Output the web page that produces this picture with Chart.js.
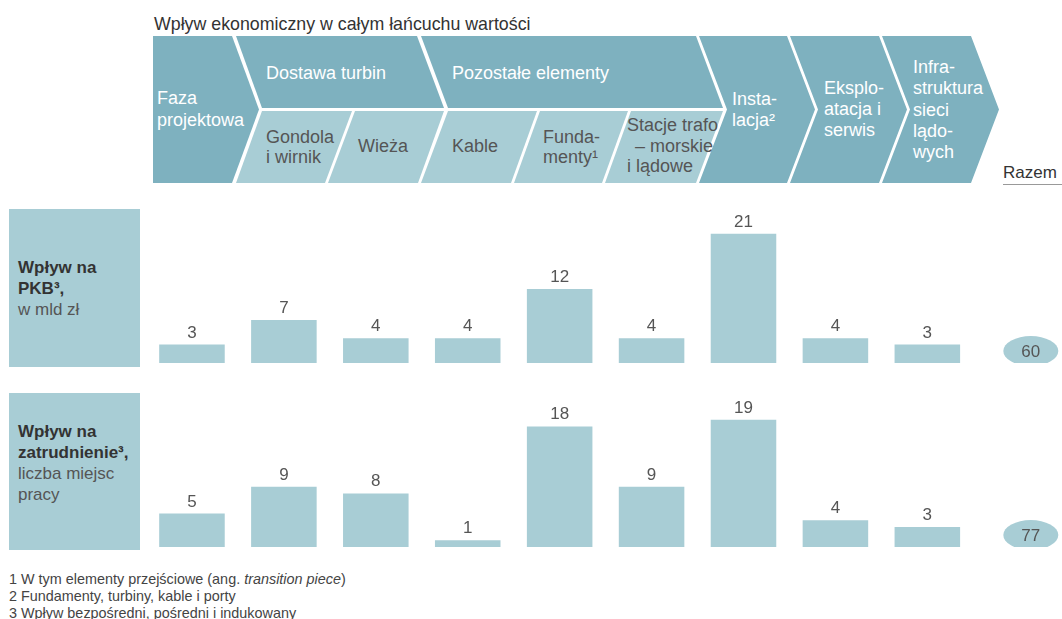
<!DOCTYPE html>
<html lang="pl">
<head>
<meta charset="utf-8">
<title>Wpływ ekonomiczny w całym łańcuchu wartości</title>
<script src="https://cdn.jsdelivr.net/npm/chart.js@4"></script>
<style>
  html, body { margin: 0; padding: 0; background: #fff; }
  body { width: 1062px; height: 619px; overflow: hidden; position: relative;
         font-family: "Liberation Sans", Arial, sans-serif; }
  .shape { position: absolute; }
  .txt { position: absolute; font-size: 18px; line-height: 21px; white-space: nowrap; }
  .w { color: #fff; }
  .g { color: #555; }
  #tytul { position: absolute; left: 154px; top: 13.8px; font-size: 17.8px; line-height: 20px; color: #333; }
  #razem { position: absolute; left: 1003px; top: 163px; font-size: 17px; line-height: 20px; color: #333;
           width: 59px; border-bottom: 1px solid #999; padding-bottom: 1px; }
  .box { position: absolute; left: 9px; width: 131px; background: #a8cdd5; }
  .box .lbl { position: absolute; left: 9px; font-size: 17px; line-height: 21px; white-space: nowrap; }
  .box b { color: #333; }
  .box span { color: #555; }
  .wrap { position: absolute; left: 146px; width: 916px; height: 154px; }
  #przypisy { position: absolute; left: 9px; top: 570.5px; font-size: 14.4px; line-height: 17px; color: #444; white-space: nowrap; }
</style>
</head>
<body>

<div id="tytul">Wpływ ekonomiczny w całym łańcuchu wartości</div>
<div id="naglowek"></div>

<div class="txt w" style="left:157px; top:88px; line-height:21.5px">Faza<br>projektowa</div>
<div class="txt w" style="left:266px; top:63px">Dostawa turbin</div>
<div class="txt w" style="left:452px; top:63px">Pozostałe elementy</div>
<div class="txt g" style="left:266px; top:126.5px; line-height:20.7px">Gondola<br>i wirnik</div>
<div class="txt g" style="left:358px; top:136px">Wieża</div>
<div class="txt g" style="left:452px; top:136px">Kable</div>
<div class="txt g" style="left:543px; top:126.5px; line-height:20.7px">Funda-<br>menty¹</div>
<div class="txt g" style="left:627px; top:115px; line-height:20.7px">Stacje trafo<br><span style="margin-left:8px">– morskie</span><br>i lądowe</div>
<div class="txt w" style="left:732px; top:89px; line-height:21.3px">Insta-<br>lacja²</div>
<div class="txt w" style="left:824px; top:78px; line-height:21.2px">Eksplo-<br>atacja i<br>serwis</div>
<div class="txt w" style="left:913px; top:57px; line-height:21.3px">Infra-<br>struktura<br>sieci<br>lądo-<br>wych</div>
<div id="razem">Razem</div>

<div class="box" style="top:209px; height:158px">
  <div class="lbl" style="top:48px"><b>Wpływ na<br>PKB³,</b><br><span>w mld zł</span></div>
</div>
<div class="box" style="top:393px; height:157px">
  <div class="lbl" style="top:27.5px"><b>Wpływ na<br>zatrudnienie³,</b><br><span>liczba miejsc<br>pracy</span></div>
</div>

<div class="wrap" style="top:209px"><canvas id="pkb"></canvas></div>
<div class="wrap" style="top:393px"><canvas id="zatrudnienie"></canvas></div>

<div id="przypisy">
  1 W tym elementy przejściowe (ang. <i>transition piece</i>)<br>
  2 Fundamenty, turbiny, kable i porty<br>
  3 Wpływ bezpośredni, pośredni i indukowany
</div>

<script>
// etapy łańcucha wartości (kolejność słupków)
const etapy = ['Faza projektowa', 'Gondola i wirnik', 'Wieża', 'Kable', 'Fundamenty',
               'Stacje trafo', 'Instalacja', 'Eksploatacja i serwis', 'Infrastruktura sieci lądowych'];
const pkb = [3, 7, 4, 4, 12, 4, 21, 4, 3];          // mld zł
const zatrudnienie = [5, 9, 8, 1, 18, 9, 19, 4, 3]; // liczba miejsc pracy
const razemPkb = 60;
const razemZatrudnienie = 77;

const CIEMNY = '#7eb1bf';
const JASNY = '#a8cdd5';

// strzałki nagłówka
const ksztalty = [
  [[153,36],[232,36],[259,109.5],[232,183],[153,183]],
  [[236,36],[417,36],[444,108],[262,108]],
  [[421,36],[696,36],[723,108],[448,108]],
  [[699,36],[787,36],[815,109.5],[787,183],[699,183],[727,109.5]],
  [[790,36],[879,36],[907,109.5],[879,183],[790,183],[818,109.5]],
  [[882,36],[971,36],[999,109.5],[971,183],[882,183],[910,109.5]]
];
const ksztaltyJasne = [
  [[262,111],[352,111],[325,183],[236,183]],
  [[355,111],[444,111],[418,183],[328,183]],
  [[448,111],[537,111],[511,183],[421,183]],
  [[540,111],[628,111],[602,183],[514,183]],
  [[631,111],[723,111],[696,183],[605,183]]
];

function rysujKsztalt(pts, kolor) {
  const xs = pts.map(p => p[0]), ys = pts.map(p => p[1]);
  const x0 = Math.min(...xs), y0 = Math.min(...ys);
  const d = document.createElement('div');
  d.className = 'shape';
  d.style.left = x0 + 'px';
  d.style.top = y0 + 'px';
  d.style.width = (Math.max(...xs) - x0) + 'px';
  d.style.height = (Math.max(...ys) - y0) + 'px';
  d.style.background = kolor;
  d.style.clipPath = 'polygon(' + pts.map(p => (p[0] - x0) + 'px ' + (p[1] - y0) + 'px').join(',') + ')';
  document.getElementById('naglowek').appendChild(d);
}
ksztalty.forEach(p => rysujKsztalt(p, CIEMNY));
ksztaltyJasne.forEach(p => rysujKsztalt(p, JASNY));

// wartości nad słupkami + owal z sumą po prawej
const etykiety = {
  id: 'etykiety',
  afterDatasetsDraw(chart, args, opts) {
    const { ctx } = chart;
    const meta = chart.getDatasetMeta(0);
    const dane = chart.data.datasets[0].data;
    ctx.save();
    ctx.font = '17px "Liberation Sans", Arial, sans-serif';
    ctx.fillStyle = '#555';
    ctx.textAlign = 'center';
    ctx.textBaseline = 'alphabetic';
    meta.data.forEach((bar, i) => {
      ctx.fillText(dane[i], bar.x, bar.y - 7);
    });
    // suma
    const cx = chart.chartArea.right + 57.5;
    const cy = chart.scales.y.getPixelForValue(0) - 12;
    ctx.fillStyle = JASNY;
    ctx.beginPath();
    ctx.ellipse(cx, cy, 27.5, 15, 0, 0, Math.PI * 2);
    ctx.fill();
    ctx.fillStyle = '#555';
    ctx.textBaseline = 'middle';
    ctx.fillText(opts.suma, cx, cy + 1);
    ctx.restore();
  }
};

function wykres(id, dane, maks, suma) {
  return new Chart(document.getElementById(id), {
    type: 'bar',
    data: {
      labels: etapy,
      datasets: [{
        data: dane,
        backgroundColor: JASNY,
        borderWidth: 0,
        categoryPercentage: 1,
        barPercentage: 0.713
      }]
    },
    options: {
      responsive: true,
      maintainAspectRatio: false,
      animation: false,
      layout: { padding: { left: 0, right: 88.7, top: 0, bottom: 0 } },
      plugins: {
        legend: { display: false },
        tooltip: { enabled: false },
        etykiety: { suma: suma }
      },
      scales: {
        x: { display: false },
        y: { display: false, min: 0, max: maks }
      }
    },
    plugins: [etykiety]
  });
}

wykres('pkb', pkb, 25, razemPkb);
wykres('zatrudnienie', zatrudnienie, 23, razemZatrudnienie);
</script>
</body>
</html>
